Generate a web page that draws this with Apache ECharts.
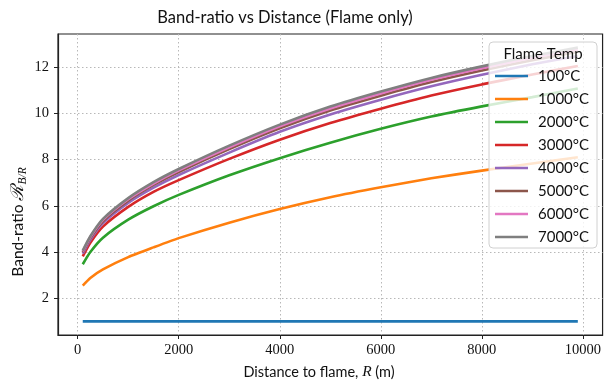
<!DOCTYPE html>
<html>
<head>
<meta charset="utf-8">
<script src="https://cdn.jsdelivr.net/npm/echarts@6/dist/echarts.min.js"></script>
<style>html,body{margin:0;padding:0;background:#fff}#c{width:604px;height:387px}</style>
</head>
<body>
<div id="c"></div>
<script>
// ---- data ----
const distances = [100, 250, 500, 1000, 1500, 2000, 3000, 4000, 5000, 6000, 7000, 8000, 9000, 9900];
const temps = [100, 1000, 2000, 3000, 4000, 5000, 6000, 7000];
const ratio100  = [1.0, 1.0, 1.0, 1.0, 1.0, 1.0, 1.0, 1.0, 1.0, 1.0, 1.0, 1.0, 1.0, 1.0];
const ratio1000 = [2.55, 2.88, 3.25, 3.78, 4.2, 4.6, 5.27, 5.86, 6.37, 6.8, 7.19, 7.52, 7.83, 8.1];
const ratio2000 = [3.47, 4.0, 4.62, 5.4, 5.98, 6.47, 7.32, 8.06, 8.73, 9.33, 9.86, 10.3, 10.7, 11.07];
const ratio3000 = [3.81, 4.4, 5.1, 5.95, 6.6, 7.11, 8.03, 8.86, 9.58, 10.2, 10.77, 11.25, 11.68, 12.05];
const ratio4000 = [3.93, 4.53, 5.25, 6.12, 6.78, 7.33, 8.3, 9.2, 9.95, 10.59, 11.17, 11.67, 12.12, 12.48];
const ratio5000 = [3.99, 4.6, 5.33, 6.22, 6.9, 7.46, 8.45, 9.35, 10.12, 10.76, 11.35, 11.85, 12.3, 12.66];
const ratio6000 = [4.03, 4.65, 5.39, 6.28, 6.96, 7.53, 8.53, 9.44, 10.21, 10.86, 11.45, 11.95, 12.4, 12.76];
const ratio7000 = [4.06, 4.68, 5.43, 6.33, 7.02, 7.59, 8.6, 9.51, 10.29, 10.94, 11.53, 12.03, 12.48, 12.84];
const xTicks = [0, 2000, 4000, 6000, 8000, 10000];
const yTicks = [2, 4, 6, 8, 10, 12];

const allRatios = [ratio100, ratio1000, ratio2000, ratio3000, ratio4000, ratio5000, ratio6000, ratio7000];
const colors = ['#1f77b4', '#ff7f0e', '#2ca02c', '#d62728', '#9467bd', '#8c564b', '#e377c2', '#7f7f7f'];
const names = temps.map(t => t + '°C');

const sans = 'Lato, "DejaVu Sans", sans-serif';
const serif = '"Liberation Serif", "DejaVu Serif", serif';

const series = allRatios.map((arr, i) => ({
  name: names[i],
  type: 'line',
  data: distances.map((d, j) => [d, arr[j]]),
  smooth: 0.2,
  symbol: 'none',
  lineStyle: { width: 2.6, color: colors[i] },
  itemStyle: { color: colors[i] },
  z: 2 + i
}));

const chart = echarts.init(document.getElementById('c'), null, { renderer: 'canvas' });
chart.setOption({
  animation: false,
  grid: { left: 58, right: 1, top: 34, bottom: 52, show: true, borderColor: '#222', borderWidth: 1.2, backgroundColor: 'transparent' },
  xAxis: {
    type: 'value', min: -390, max: 10390,
    axisLine: { show: true, onZero: false, lineStyle: { color: '#222', width: 1.2 } },
    axisTick: { show: true, length: 4, inside: false, customValues: xTicks, lineStyle: { color: '#222' } },
    axisLabel: { customValues: xTicks, margin: 8, fontFamily: serif, fontSize: 14.5, color: '#111', formatter: v => String(v) },
    splitLine: { show: true, lineStyle: { color: '#b8b8b8', type: [1.5, 2.5], width: 1 } }
  },
  yAxis: {
    type: 'value', min: 0.41, max: 13.43,
    axisLine: { show: true, onZero: false, lineStyle: { color: '#222', width: 1.2 } },
    axisTick: { show: true, length: 4, inside: false, customValues: yTicks, lineStyle: { color: '#222' } },
    axisLabel: { customValues: yTicks, margin: 9, fontFamily: serif, fontSize: 14.5, color: '#111', formatter: v => String(v) },
    splitLine: { show: true, lineStyle: { color: '#b8b8b8', type: [1.5, 2.5], width: 1 } }
  },
  legend: {
    orient: 'vertical',
    left: 495, top: 68.5, padding: 0,
    icon: 'rect',
    itemWidth: 33, itemHeight: 2.6, itemGap: 8,
    data: names,
    textStyle: { fontFamily: sans, fontSize: 15, color: '#111', padding: [0, 0, 0, 5] },
    z: 20
  },
  graphic: [
    { type: 'text', x: 285, y: 18,
      style: { text: 'Band-ratio vs Distance (Flame only)', fontFamily: sans, fontSize: 16.5, fill: '#111', textAlign: 'center', textVerticalAlign: 'middle' } },
    { type: 'text', x: 319, y: 372,
      style: { text: '{t|Distance to flame, }{i|R}{t| (m)}', textAlign: 'center', textVerticalAlign: 'middle',
        rich: { t: { fontFamily: sans, fontSize: 14.5, fill: '#111' }, i: { fontFamily: serif, fontStyle: 'italic', fontSize: 15.5, fill: '#111' } } } },
    { type: 'text', x: 18, y: 222, rotation: Math.PI / 2,
      style: { text: '{t|Band-ratio }{r|ℛ}{s|B/R}', textAlign: 'center', textVerticalAlign: 'middle',
        rich: {
          t: { fontFamily: sans, fontSize: 15.5, fill: '#111' },
          r: { fontFamily: serif, fontStyle: 'italic', fontSize: 18, fill: '#111' },
          s: { fontFamily: serif, fontStyle: 'italic', fontSize: 11.5, fill: '#111', padding: [9, 0, 0, 0] }
        } } },
    { type: 'rect', z: 15, shape: { x: 489, y: 42, width: 108, height: 206, r: 4 },
      style: { fill: 'rgba(255,255,255,0.8)', stroke: '#d0d0d0', lineWidth: 1 } },
    { type: 'text', z: 16, x: 543, y: 54,
      style: { text: 'Flame Temp', fontFamily: sans, fontSize: 15, fill: '#111', textAlign: 'center', textVerticalAlign: 'middle' } }
  ],
  series: series
});
</script>
</body>
</html>
